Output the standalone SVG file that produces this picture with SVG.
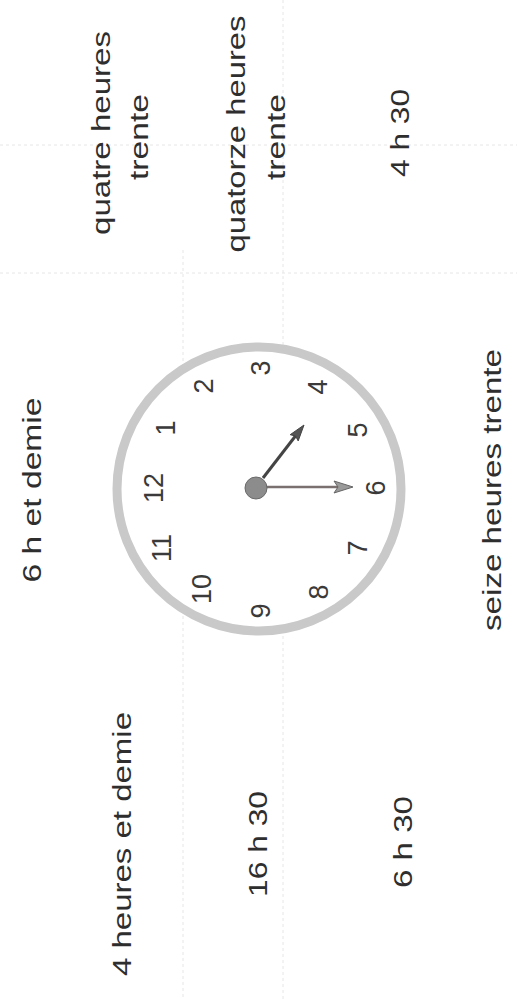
<svg xmlns="http://www.w3.org/2000/svg" width="517" height="999" viewBox="0 0 517 999">
  <style>
    .lbl { font-family: "Liberation Sans", Arial, sans-serif; font-size: 25px; fill: #2e2e2e; text-anchor: middle; }
    .num { font-family: "Liberation Sans", Arial, sans-serif; font-size: 27px; fill: #3a3a3a; text-anchor: middle; }
    .grid { stroke: #e6e6e6; stroke-width: 1; stroke-dasharray: 3 3; fill: none; }
  </style>
  <rect x="0" y="0" width="517" height="999" fill="#ffffff"/>

  <g id="grid-lines">
    <line class="grid" x1="183" y1="250" x2="183" y2="999"/>
    <line class="grid" x1="283" y1="0" x2="283" y2="999"/>
    <line class="grid" x1="0" y1="145" x2="517" y2="145"/>
    <line class="grid" x1="0" y1="273" x2="517" y2="273"/>
  </g>

  <g id="label-quatre-heures-trente">
    <text class="lbl" transform="translate(110,133) rotate(-90)" textLength="204" lengthAdjust="spacingAndGlyphs">quatre heures</text>
    <text class="lbl" transform="translate(148,137) rotate(-90)" textLength="86" lengthAdjust="spacingAndGlyphs">trente</text>
  </g>
  <g id="label-quatorze-heures-trente">
    <text class="lbl" transform="translate(245,134) rotate(-90)" textLength="237" lengthAdjust="spacingAndGlyphs">quatorze heures</text>
    <text class="lbl" transform="translate(285,137) rotate(-90)" textLength="86" lengthAdjust="spacingAndGlyphs">trente</text>
  </g>
  <g id="label-4h30">
    <text class="lbl" transform="translate(409,133) rotate(-90)" textLength="88" lengthAdjust="spacingAndGlyphs">4 h 30</text>
  </g>
  <g id="label-6h-et-demie">
    <text class="lbl" transform="translate(41,490) rotate(-90)" textLength="185" lengthAdjust="spacingAndGlyphs">6 h et demie</text>
  </g>
  <g id="label-seize-heures-trente">
    <text class="lbl" transform="translate(501,490) rotate(-90)" textLength="282" lengthAdjust="spacingAndGlyphs">seize heures trente</text>
  </g>
  <g id="label-4-heures-et-demie">
    <text class="lbl" transform="translate(131,844) rotate(-90)" textLength="264" lengthAdjust="spacingAndGlyphs">4 heures et demie</text>
  </g>
  <g id="label-16h30">
    <text class="lbl" transform="translate(267,844) rotate(-90)" textLength="106" lengthAdjust="spacingAndGlyphs">16 h 30</text>
  </g>
  <g id="label-6h30">
    <text class="lbl" transform="translate(412,842) rotate(-90)" textLength="92" lengthAdjust="spacingAndGlyphs">6 h 30</text>
  </g>

  <g id="clock">
    <circle cx="259" cy="489" r="142" fill="#ffffff" stroke="#c9c9c9" stroke-width="9"/>
    <g id="clock-numbers">
      <text class="num" transform="translate(153,488) rotate(-90)" dy="0.36em">12</text>
      <text class="num" transform="translate(165,428) rotate(-90)" dy="0.36em">1</text>
      <text class="num" transform="translate(203,386) rotate(-90)" dy="0.36em">2</text>
      <text class="num" transform="translate(260,368) rotate(-90)" dy="0.36em">3</text>
      <text class="num" transform="translate(317,387) rotate(-90)" dy="0.36em">4</text>
      <text class="num" transform="translate(357,430) rotate(-90)" dy="0.36em">5</text>
      <text class="num" transform="translate(375,488) rotate(-90)" dy="0.36em">6</text>
      <text class="num" transform="translate(357,548) rotate(-90)" dy="0.36em">7</text>
      <text class="num" transform="translate(318,592) rotate(-90)" dy="0.36em">8</text>
      <text class="num" transform="translate(260,611) rotate(-90)" dy="0.36em">9</text>
      <text class="num" transform="translate(201,589) rotate(-90)" dy="0.36em">10</text>
      <text class="num" transform="translate(161,548) rotate(-90)" dy="0.36em">11</text>
    </g>
    <g id="clock-hands">
      <line x1="266" y1="487" x2="340" y2="487" stroke="#7a7070" stroke-width="2.5"/>
      <polygon points="353,487 334,481 338,487 334,493" fill="#9a9a9a" stroke="#666666" stroke-width="1"/>
      <line x1="263" y1="478" x2="297" y2="434" stroke="#444444" stroke-width="3"/>
      <polygon points="304,425 298.2,440.9 295.5,436 290.2,434.7" fill="#555555" stroke="#444444" stroke-width="1"/>
      <circle cx="256" cy="488" r="11" fill="#8c8c8c" stroke="#6a6a6a" stroke-width="1"/>
    </g>
  </g>
</svg>
